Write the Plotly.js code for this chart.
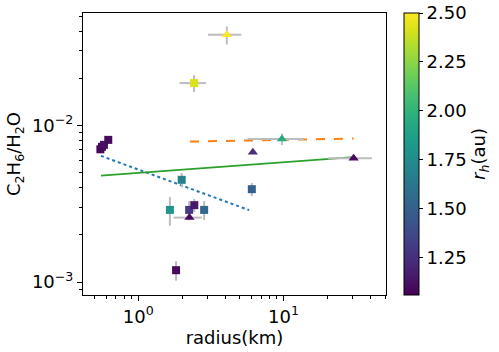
<!DOCTYPE html>
<html>
<head>
<meta charset="utf-8">
<script src="https://cdn.plot.ly/plotly-3.0.1.min.js"></script>
<style>
  html, body { margin: 0; padding: 0; background: #fff; }
  #chart { width: 499px; height: 352px; }
</style>
</head>
<body>
<div id="chart"></div>
<script>
// squares
var sq_radius     = [0.548, 0.562, 0.580, 0.621, 2.42, 1.99, 1.65, 2.24, 2.43, 2.84, 1.82, 6.05];
var sq_radius_err = [0, 0, 0, 0, 0.5, 0, 0, 0, 0, 0, 0, 0];
var sq_ratio      = [0.00705, 0.00731, 0.00753, 0.00810, 0.01868, 0.00450, 0.00289, 0.00289, 0.00310, 0.00289, 0.00119, 0.00392];
var sq_ratio_err  = [0, 0, 0, 0.0004, 0.0023, 0.00048, 0.0006, 0.0004, 0.0003, 0.0004, 0.00017, 0.00038];
var sq_rh         = [1.08, 1.10, 1.12, 1.10, 2.42, 1.68, 1.80, 1.30, 1.15, 1.55, 1.10, 1.50];

// triangles
var tr_radius     = [4.07, 9.75, 6.15, 30.4, 2.25];
var tr_radius_err = [1.05, 4.1, 0, 10.2, 0.5];
var tr_ratio      = [0.0380, 0.00819, 0.00676, 0.00618, 0.00258];
var tr_ratio_err  = [0.005, 0.0007, 0, 0, 0.0001];
var tr_rh         = [2.50, 1.95, 1.25, 1.10, 1.10];

// fitted lines (end points)
var fit1_x = [0.553, 5.80];
var fit1_y = [0.00640, 0.00288];
var fit2_x = [2.27, 30.4];
var fit2_y = [0.00790, 0.00826];
var fit3_x = [0.553, 30.4];
var fit3_y = [0.00479, 0.00628];

var rh_min = 1.06, rh_max = 2.5;
var errColor = '#bdbdbd';
var font = 'DejaVu Sans, sans-serif';

var squares = {
    x: sq_radius, y: sq_ratio,
    error_x: {type: 'data', array: sq_radius_err, color: errColor, thickness: 2, width: 0},
    error_y: {type: 'data', array: sq_ratio_err, color: errColor, thickness: 2, width: 0},
    mode: 'markers', type: 'scatter',
    marker: {symbol: 'square', size: 8, color: sq_rh, colorscale: 'Viridis', cmin: rh_min, cmax: rh_max,
        showscale: true,
        colorbar: {
            x: 1.06, xanchor: 'left', xpad: 0, ypad: 0, y: 0.5, len: 1, thickness: 15,
            outlinewidth: 1, outlinecolor: '#000',
            tickvals: [1.25, 1.5, 1.75, 2.0, 2.25, 2.5],
            ticktext: ['1.25', '1.50', '1.75', '2.00', '2.25', '2.50'],
            ticks: 'outside', ticklen: 4, tickcolor: '#000',
            tickfont: {family: font, size: 18, color: '#000'}
        }
    }
};

var triangles = {
    x: tr_radius, y: tr_ratio,
    error_x: {type: 'data', array: tr_radius_err, color: errColor, thickness: 2, width: 0},
    error_y: {type: 'data', array: tr_ratio_err, color: errColor, thickness: 2, width: 0},
    mode: 'markers', type: 'scatter',
    marker: {symbol: 'triangle-up', size: 9, color: tr_rh, colorscale: 'Viridis', cmin: rh_min, cmax: rh_max}
};

var line1 = {x: fit1_x, y: fit1_y, mode: 'lines', type: 'scatter', line: {color: '#1f77b4', width: 2, dash: 'dot'}};
var line2 = {x: fit2_x, y: fit2_y, mode: 'lines', type: 'scatter', line: {color: '#ff7f0e', width: 2, dash: 'dash'}};
var line3 = {x: fit3_x, y: fit3_y, mode: 'lines', type: 'scatter', line: {color: '#2ca02c', width: 1.8}};

var data = [line1, line2, line3, squares, triangles];

var layout = {
    width: 499, height: 352,
    margin: {l: 83, r: 113, t: 13, b: 57},
    showlegend: false,
    paper_bgcolor: '#fff', plot_bgcolor: '#fff',
    font: {family: font, size: 18, color: '#000'},
    xaxis: {
        type: 'log', range: [Math.log10(0.416), Math.log10(50.8)],
        tickvals: [1, 10], ticktext: ['10<sup>0</sup>', '10<sup>1</sup>'],
        ticks: 'outside', ticklen: 5, tickcolor: '#000',
        minor: {tickvals: [0.5, 0.6, 0.7, 0.8, 0.9, 2, 3, 4, 5, 6, 7, 8, 9, 20, 30, 40, 50], ticks: 'outside', ticklen: 3, tickcolor: '#000', showgrid: false},
        showgrid: false, zeroline: false,
        showline: true, linecolor: '#000', linewidth: 1, mirror: true,
        title: {text: 'radius(km)', font: {family: font, size: 18}, standoff: 4}
    },
    yaxis: {
        type: 'log', range: [Math.log10(8.26e-4), Math.log10(0.0524)],
        tickvals: [0.001, 0.01], ticktext: ['10<sup>\u22123</sup>', '10<sup>\u22122</sup>'],
        ticks: 'outside', ticklen: 5, tickcolor: '#000',
        minor: {tickvals: [0.0009, 0.002, 0.003, 0.004, 0.005, 0.006, 0.007, 0.008, 0.009, 0.02, 0.03, 0.04, 0.05], ticks: 'outside', ticklen: 3, tickcolor: '#000', showgrid: false},
        showgrid: false, zeroline: false,
        showline: true, linecolor: '#000', linewidth: 1, mirror: true,
        title: {text: 'C<sub>2</sub>H<sub>6</sub>/H<sub>2</sub>O', font: {family: font, size: 18}, standoff: 6}
    },
    annotations: [{
        text: '<i>r</i><sub><i>h</i></sub>(au)', textangle: -90,
        xref: 'paper', yref: 'paper', x: 1.31, y: 0.5, xanchor: 'center', yanchor: 'middle',
        showarrow: false, font: {family: font, size: 18, color: '#000'}
    }]
};

Plotly.newPlot('chart', data, layout, {staticPlot: true});
</script>
</body>
</html>
